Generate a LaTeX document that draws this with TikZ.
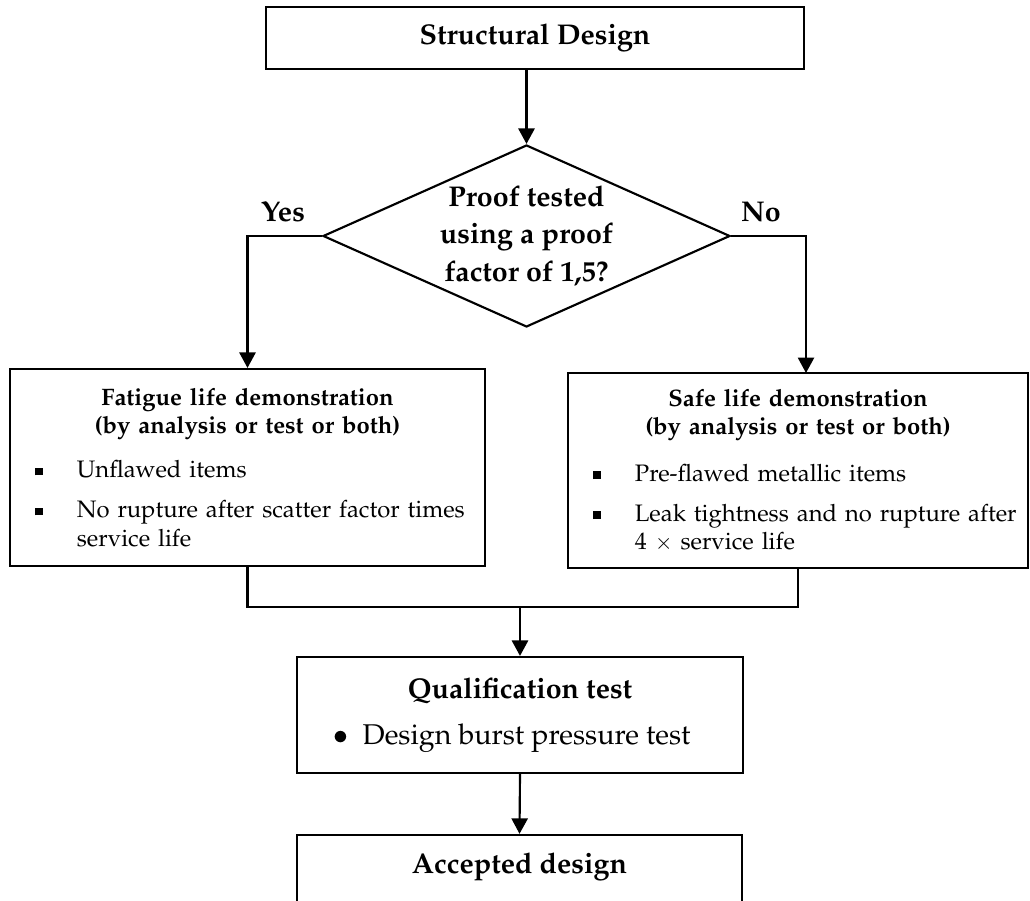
\documentclass[tikz,border=0pt]{standalone}
\usepackage[T1]{fontenc}
\usepackage{mathpazo}
\usepackage{tikz}
\usetikzlibrary{shapes.geometric}
\usetikzlibrary{arrows.meta}

\newcommand{\sqitem}{\hangindent=23.9pt\hangafter=1\noindent\makebox[23.9pt][l]{\hspace{6.3pt}\rule[1pt]{3.2pt}{3.2pt}}}

\begin{document}
\begin{tikzpicture}[x=0.42pt,y=-0.42pt,
  box/.style={draw,rectangle,line width=0.9pt,inner sep=0pt},
  decision/.style={draw,diamond,aspect=2.24,line width=0.9pt,inner sep=0pt},
  arr/.style={-{Triangle[length=6.5pt,width=6.8pt]},line width=0.9pt}]
  \useasboundingbox (0,0) rectangle (1030,901);
  \node[box,line width=1pt,minimum width=538*0.42pt,minimum height=62*0.42pt,font=\large\bfseries] (1) at (535,38) {Structural Design};
  \node[decision,minimum width=407*0.42pt,minimum height=182*0.42pt,font=\large\bfseries,align=center] (2) at (526.5,236)
    {Proof tested\\[1.75pt]using a proof\\[1.75pt]factor of 1,5?};
  \node[box,minimum width=475*0.42pt,minimum height=197*0.42pt,inner xsep=4.2pt,text width=191.1pt,align=left] (3) at (247.5,467.5)
    {{\centering\bfseries Fatigue life demonstration\\(by analysis or test or both)\par}
     \vspace{6.5pt}
     \sqitem Unflawed items\par
     \vspace{4.8pt}
     \sqitem No rupture after scatter factor times\newline service life\par};
  \node[box,minimum width=460*0.42pt,minimum height=195*0.42pt,inner xsep=4.2pt,text width=184.8pt,align=left] (4) at (798,470.5)
    {{\centering\bfseries Safe life demonstration\\(by analysis or test or both)\par}
     \vspace{7.5pt}
     \sqitem Pre-flawed metallic items\par
     \vspace{4.8pt}
     \sqitem Leak tightness and no rupture after\newline 4 {\small$\times$} service life\par};
  \node[box,minimum width=446*0.42pt,minimum height=116*0.42pt,font=\large,align=center] (5) at (520,715)
    {\textbf{Qualification test}\\[5.3pt]$\bullet$\hspace{6pt}Design burst pressure test\hspace*{7pt}};
  \node[box,anchor=base,minimum width=445*0.42pt,text height=16pt,text depth=40pt,font=\large\bfseries] (6) at (519.5,873) {Accepted design};
  \node[font=\large\bfseries] (9) at (283,212) {Yes};
  \node[font=\large\bfseries] (10) at (761,212) {No};
  \coordinate (7) at (806,373);
  \coordinate (8) at (520,607);
  \draw[arr] (1.south -| 2.north) -- (2.north);
  \draw[arr] (2.west) -| (3.north);
  \draw[arr] (2.east) -| (7);
  \draw[line width=0.9pt] (3.south) |- (8) -| (4.south);
  \draw[arr] (8) -- (5.north);
  \draw[arr] (5.south) -- (6.north);
\end{tikzpicture}
\end{document}
